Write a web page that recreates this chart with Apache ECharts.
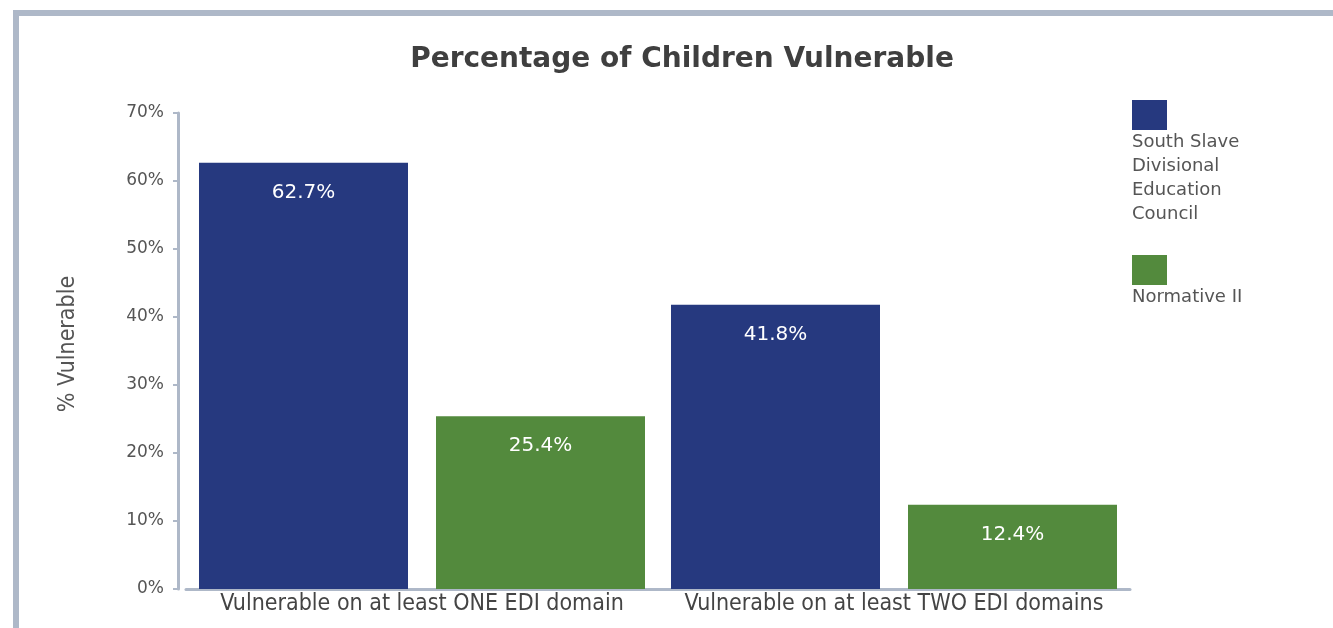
<!DOCTYPE html>
<html><head><meta charset="utf-8">
<script src="https://cdn.jsdelivr.net/npm/echarts@6/dist/echarts.min.js"></script>
<style>html,body{margin:0;padding:0;background:#fff}#c{width:1333px;height:628px}</style>
</head><body><div id="c"></div>
<script>
var categories = ['Vulnerable on at least ONE EDI domain', 'Vulnerable on at least TWO EDI domains'];
var seriesNames = ['South Slave\nDivisional\nEducation\nCouncil', 'Normative II'];
var southSlave = [62.7, 41.8];
var normative = [25.4, 12.4];
var colors = ['#26397f', '#538a3d'];
var yTicks = [0, 10, 20, 30, 40, 50, 60, 70];

var chart = echarts.init(document.getElementById('c'));
var font = '"DejaVu Sans", sans-serif';
var narrow = '"Liberation Sans Narrow", "DejaVu Sans Condensed", sans-serif';
var labelCfg = {show: true, position: 'insideTop', distance: 20, color: '#fff', fontSize: 20, fontFamily: font, fontWeight: 'normal', formatter: function(p){return p.value.toFixed(1)+'%';}};

var legendGraphics = [];
var legendY = [100, 255];
seriesNames.forEach(function(n, i){
  legendGraphics.push({type:'rect', left:1132, top:legendY[i], shape:{width:35,height:30}, style:{fill:colors[i]}});
  legendGraphics.push({type:'text', left:1132, top:legendY[i]+30, style:{text:n, fill:'#555', font:'18px '+font, lineHeight:24}});
});

chart.setOption({
  animation: false,
  title: {text: 'Percentage of Children Vulnerable', left: 677, textAlign: 'center', top: 41,
    textStyle: {fontFamily: font, fontWeight: 'bold', fontSize: 28, color: '#3f3f3f'}},
  grid: {left: 186, right: 203, top: 113, bottom: 39, containLabel: false},
  xAxis: {type: 'category', data: categories,
    axisLine: {lineStyle: {color: '#aeb8c8', width: 3}},
    axisTick: {show: false},
    axisLabel: {interval: 0, hideOverlap: false, color: '#444', fontSize: 23, fontFamily: narrow, margin: 4}},
  yAxis: {type: 'value', min: 0, max: 70, interval: 10, offset: 8,
    name: '% Vulnerable', nameLocation: 'middle', nameGap: 98, nameRotate: 90,
    nameTextStyle: {color: '#555', fontSize: 23, fontFamily: narrow, padding: [0, 0, 0, 14]},
    axisLine: {show: true, lineStyle: {color: '#aeb8c8', width: 3}},
    axisTick: {show: true, length: 5, lineStyle: {color: '#aeb8c8', width: 2}},
    splitLine: {show: false},
    axisLabel: {color: '#555', fontSize: 17, fontFamily: font, margin: 14,
      formatter: function(v){return yTicks.indexOf(v) >= 0 ? v + '%' : '';}}},
  series: [
    {name: seriesNames[0], type: 'bar', data: southSlave, barWidth: 209, barGap: '13.4%', itemStyle: {color: colors[0]}, label: labelCfg},
    {name: seriesNames[1], type: 'bar', data: normative, barWidth: 209, itemStyle: {color: colors[1]}, label: labelCfg}
  ],
  graphic: [
    {type:'rect', left:13, top:10, shape:{width:1320,height:6}, style:{fill:'#aeb8c8'}},
    {type:'rect', left:13, top:10, shape:{width:6,height:618}, style:{fill:'#aeb8c8'}}
  ].concat(legendGraphics)
});
</script></body></html>
